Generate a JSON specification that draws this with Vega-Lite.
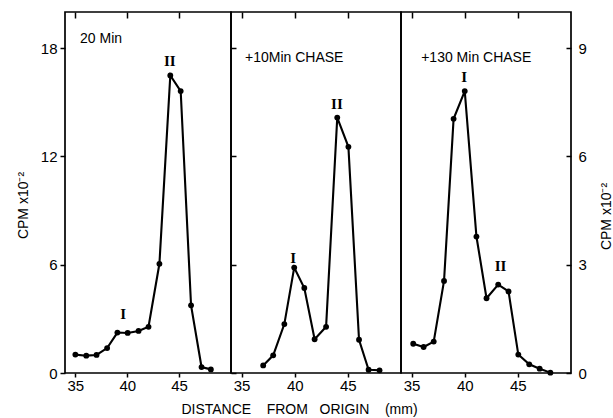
{
  "$schema": "https://vega.github.io/schema/vega-lite/v6.json",
  "background": "white",
  "padding": {"left": 15, "top": 10, "right": 0, "bottom": 3},
  "spacing": 0,
  "bounds": "flush",
  "config": {
    "view": {"stroke": "black", "strokeWidth": 1.7},
    "axis": {
      "grid": false, "domain": false,
      "labelFont": "Liberation Sans", "labelFontSize": 15, "labelColor": "black",
      "tickColor": "black", "tickWidth": 1.5,
      "titleFont": "Liberation Sans", "titleFontSize": 14, "titleFontWeight": "normal", "titleColor": "black"
    }
  },
  "datasets": {
    "p1": [
      {"mm": 35.0, "cpm": 1.02}, {"mm": 36.05, "cpm": 0.96}, {"mm": 37.04, "cpm": 1.0},
      {"mm": 38.06, "cpm": 1.38}, {"mm": 39.05, "cpm": 2.24}, {"mm": 40.04, "cpm": 2.22},
      {"mm": 41.09, "cpm": 2.33}, {"mm": 42.05, "cpm": 2.56}, {"mm": 43.1, "cpm": 6.05},
      {"mm": 44.15, "cpm": 16.48}, {"mm": 45.15, "cpm": 15.62}, {"mm": 46.15, "cpm": 3.75},
      {"mm": 47.16, "cpm": 0.33}, {"mm": 48.06, "cpm": 0.2}
    ],
    "p2": [
      {"mm": 37.03, "cpm": 0.42}, {"mm": 37.97, "cpm": 0.98}, {"mm": 39.02, "cpm": 2.71},
      {"mm": 39.95, "cpm": 5.84}, {"mm": 40.9, "cpm": 4.71}, {"mm": 41.87, "cpm": 1.87},
      {"mm": 42.95, "cpm": 2.56}, {"mm": 44.0, "cpm": 14.15}, {"mm": 45.05, "cpm": 12.53},
      {"mm": 46.05, "cpm": 1.84}, {"mm": 46.95, "cpm": 0.18}, {"mm": 47.98, "cpm": 0.15}
    ],
    "p3": [
      {"mm": 35.15, "cpm": 0.81}, {"mm": 36.13, "cpm": 0.72}, {"mm": 37.08, "cpm": 0.87},
      {"mm": 38.05, "cpm": 2.55}, {"mm": 38.95, "cpm": 7.04}, {"mm": 40.0, "cpm": 7.81},
      {"mm": 41.1, "cpm": 3.78}, {"mm": 42.05, "cpm": 2.07}, {"mm": 43.15, "cpm": 2.45},
      {"mm": 44.12, "cpm": 2.26}, {"mm": 45.04, "cpm": 0.51}, {"mm": 46.07, "cpm": 0.24},
      {"mm": 47.05, "cpm": 0.12}, {"mm": 48.06, "cpm": 0.01}
    ]
  },
  "hconcat": [
    {
      "width": 166, "height": 361,
      "resolve": {"axis": {"x": "independent"}},
      "layer": [
        {
          "data": {"name": "p1"},
          "mark": {"type": "line", "color": "black", "strokeWidth": 2.1},
          "encoding": {
            "x": {"field": "mm", "type": "quantitative", "scale": {"domain": [34.1, 49.05]},
                  "axis": {"orient": "bottom", "values": [35, 40, 45], "tickSize": 4, "labelPadding": 1, "title": null}},
            "y": {"field": "cpm", "type": "quantitative", "scale": {"domain": [0, 19.7]},
                  "axis": {"orient": "left", "values": [0, 6, 12, 18], "tickSize": 5, "labelPadding": 3,
                           "title": "CPM  x10⁻²", "titleX": -42, "titleY": 193, "titleAngle": 270,
                           "titleBaseline": "middle", "titleAlign": "center"}}
          }
        },
        {
          "data": {"name": "p1"},
          "mark": {"type": "point", "filled": true, "color": "black", "opacity": 1, "size": 34},
          "encoding": {
            "x": {"field": "mm", "type": "quantitative",
                  "axis": {"orient": "top", "values": [35, 40, 45], "labels": false, "ticks": true, "tickSize": -6, "title": null}},
            "y": {"field": "cpm", "type": "quantitative"}
          }
        },
        {
          "data": {"values": [{"mm": 35.45, "cpm": 18.5, "label": "20 Min"}]},
          "mark": {"type": "text", "font": "Liberation Sans", "fontSize": 14, "align": "left", "baseline": "middle", "color": "black"},
          "encoding": {
            "x": {"field": "mm", "type": "quantitative", "axis": null},
            "y": {"field": "cpm", "type": "quantitative"},
            "text": {"field": "label"}
          }
        },
        {
          "data": {"values": [{"mm": 44.1, "cpm": 17.3, "label": "II"}, {"mm": 39.6, "cpm": 3.29, "label": "I"}]},
          "mark": {"type": "text", "font": "Liberation Serif", "fontWeight": "bold", "fontSize": 15, "align": "center", "baseline": "middle", "color": "black"},
          "encoding": {
            "x": {"field": "mm", "type": "quantitative", "axis": null},
            "y": {"field": "cpm", "type": "quantitative"},
            "text": {"field": "label"}
          }
        }
      ]
    },
    {
      "width": 170, "height": 361,
      "resolve": {"axis": {"x": "independent"}},
      "layer": [
        {
          "data": {"name": "p2"},
          "mark": {"type": "line", "color": "black", "strokeWidth": 2.1},
          "encoding": {
            "x": {"field": "mm", "type": "quantitative", "scale": {"domain": [34.1, 48.96]},
                  "axis": {"orient": "bottom", "values": [35, 40, 45], "tickSize": 4, "labelPadding": 1,
                           "title": "DISTANCE\u00a0\u00a0\u00a0\u00a0FROM\u00a0\u00a0\u00a0ORIGIN\u00a0\u00a0\u00a0\u00a0(mm)", "titleX": 68, "titleY": 36,
                           "titleAlign": "center", "titleBaseline": "middle"}},
            "y": {"field": "cpm", "type": "quantitative", "scale": {"domain": [0, 19.7]},
                  "axis": {"orient": "left", "values": [0, 6, 12, 18], "tickSize": -5, "labels": false, "title": null}}
          }
        },
        {
          "data": {"name": "p2"},
          "mark": {"type": "point", "filled": true, "color": "black", "opacity": 1, "size": 34},
          "encoding": {
            "x": {"field": "mm", "type": "quantitative",
                  "axis": {"orient": "top", "values": [35, 40, 45], "labels": false, "ticks": true, "tickSize": -6, "title": null}},
            "y": {"field": "cpm", "type": "quantitative"}
          }
        },
        {
          "data": {"values": [{"mm": 35.32, "cpm": 17.46, "label": "+10Min CHASE"}]},
          "mark": {"type": "text", "font": "Liberation Sans", "fontSize": 14, "align": "left", "baseline": "middle", "color": "black"},
          "encoding": {
            "x": {"field": "mm", "type": "quantitative", "axis": null},
            "y": {"field": "cpm", "type": "quantitative"},
            "text": {"field": "label"}
          }
        },
        {
          "data": {"values": [{"mm": 43.97, "cpm": 14.9, "label": "II"}, {"mm": 39.86, "cpm": 6.38, "label": "I"}]},
          "mark": {"type": "text", "font": "Liberation Serif", "fontWeight": "bold", "fontSize": 15, "align": "center", "baseline": "middle", "color": "black"},
          "encoding": {
            "x": {"field": "mm", "type": "quantitative", "axis": null},
            "y": {"field": "cpm", "type": "quantitative"},
            "text": {"field": "label"}
          }
        }
      ]
    },
    {
      "width": 170, "height": 361,
      "resolve": {"axis": {"x": "independent"}},
      "layer": [
        {
          "data": {"name": "p3"},
          "mark": {"type": "line", "color": "black", "strokeWidth": 2.1},
          "encoding": {
            "x": {"field": "mm", "type": "quantitative", "scale": {"domain": [34.08, 49.09]},
                  "axis": {"orient": "bottom", "values": [35, 40, 45], "tickSize": 4, "labelPadding": 1, "title": null}},
            "y": {"field": "cpm", "type": "quantitative", "scale": {"domain": [0, 9.85]},
                  "axis": {"orient": "right", "values": [0, 3, 6, 9], "tickSize": -5, "labelPadding": 12,
                           "title": "CPM  x10⁻²", "titleX": 35, "titleY": 204, "titleAngle": 270,
                           "titleBaseline": "middle", "titleAlign": "center"}}
          }
        },
        {
          "data": {"name": "p3"},
          "mark": {"type": "point", "filled": true, "color": "black", "opacity": 1, "size": 34},
          "encoding": {
            "x": {"field": "mm", "type": "quantitative",
                  "axis": {"orient": "top", "values": [35, 40, 45], "labels": false, "ticks": true, "tickSize": -6, "title": null}},
            "y": {"field": "cpm", "type": "quantitative"}
          }
        },
        {
          "data": {"values": [{"mm": 35.9, "cpm": 8.73, "label": "+130 Min CHASE"}]},
          "mark": {"type": "text", "font": "Liberation Sans", "fontSize": 14, "align": "left", "baseline": "middle", "color": "black"},
          "encoding": {
            "x": {"field": "mm", "type": "quantitative", "axis": null},
            "y": {"field": "cpm", "type": "quantitative"},
            "text": {"field": "label"}
          }
        },
        {
          "data": {"values": [{"mm": 39.95, "cpm": 8.21, "label": "I"}, {"mm": 43.37, "cpm": 2.96, "label": "II"}]},
          "mark": {"type": "text", "font": "Liberation Serif", "fontWeight": "bold", "fontSize": 15, "align": "center", "baseline": "middle", "color": "black"},
          "encoding": {
            "x": {"field": "mm", "type": "quantitative", "axis": null},
            "y": {"field": "cpm", "type": "quantitative"},
            "text": {"field": "label"}
          }
        }
      ]
    }
  ]
}
